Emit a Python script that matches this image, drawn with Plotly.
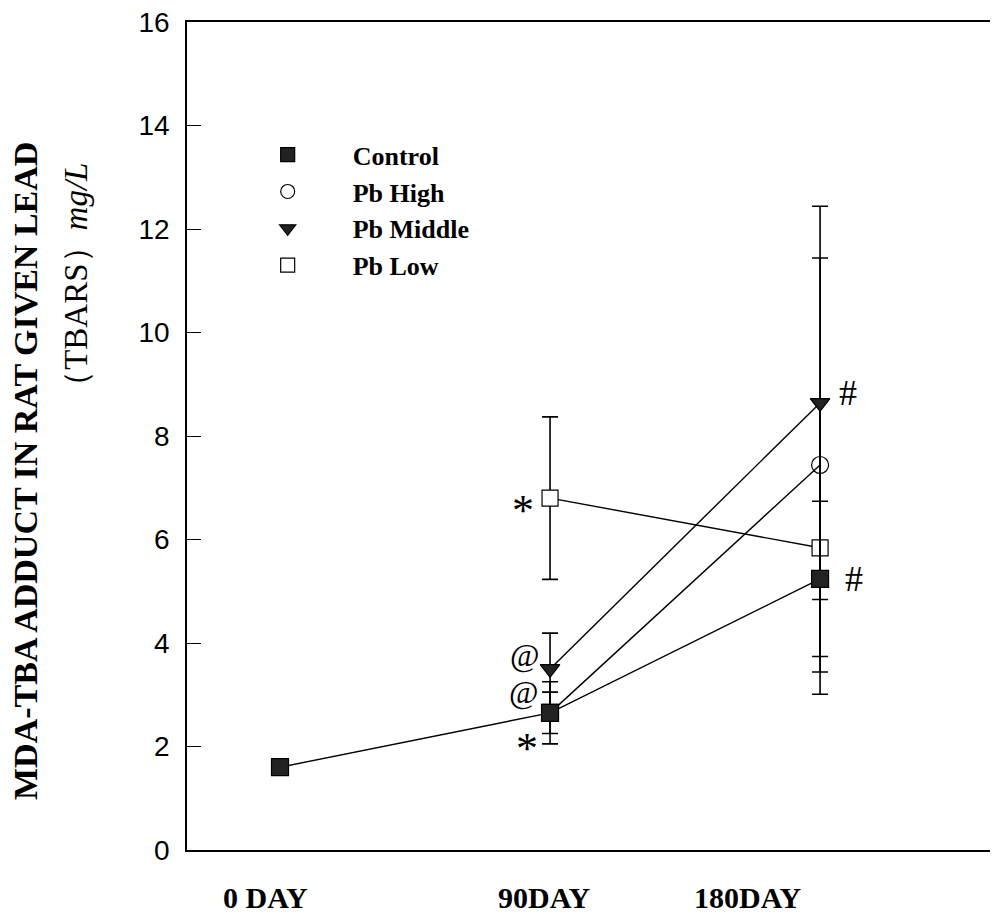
import plotly.graph_objects as go

# ---- data ----
days = [0, 90, 180]
day_labels = ["0 DAY", "90DAY", "180DAY"]
day_label_pos = [-5, 88, 156]          # label anchor positions on the day axis

control = [1.6, 2.65, 5.24]
control_err = [0, 0.4, 1.5]
pb_high = [None, 2.65, 7.44]
high_err = [0, 0.6, 4.0]
pb_middle = [None, 3.5, 8.64]
middle_err = [0, 0.69, 3.8]
pb_low = [None, 6.8, 5.84]
low_err = [0, 1.57, 2.83]

y_ticks = [0, 2, 4, 6, 8, 10, 12, 14, 16]

SERIF = "Liberation Serif, Times New Roman, serif"
SANS = "Liberation Sans, Arial, sans-serif"

fig = go.Figure()

def add_series(name, y, err, symbol, fill, size):
    fig.add_trace(go.Scatter(
        x=days, y=y, mode="lines+markers", name=name, showlegend=False,
        line=dict(color="black", width=1.4),
        marker=dict(symbol=symbol, size=size, color=fill,
                    line=dict(color="black", width=1.2)),
        error_y=dict(type="data", array=err, visible=True,
                     color="black", thickness=1.6, width=8),
    ))

# drawing order: Low, High, Middle, Control (later ones on top)
add_series("Pb Low", pb_low, low_err, "square", "white", 16)
add_series("Pb High", pb_high, high_err, "circle", "rgba(255,255,255,0)", 17)
add_series("Pb Middle", pb_middle, middle_err, "triangle-down", "#222222", 17)
add_series("Control", control, control_err, "square", "#222222", 17)

# legend-only entries (markers only) in reference order
legend_items = [
    ("Control", "square", "#222222"),
    ("Pb High", "circle", "white"),
    ("Pb Middle", "triangle-down", "#222222"),
    ("Pb Low", "square", "white"),
]
for name, sym, fill in legend_items:
    fig.add_trace(go.Scatter(
        x=[None], y=[None], mode="markers", name="<b>%s</b>" % name,
        marker=dict(symbol=sym, size=14, color=fill,
                    line=dict(color="black", width=1.2)),
    ))

annotations = []
# significance markers attached to data points: (text, x, y, dx, dy, size)
sig = [
    ("*", days[1], pb_low[1], -27, -12, 44),
    ("@", days[1], pb_middle[1], -26, 14, 32),
    ("@", days[1], control[1], -27, 21, 32),
    ("*", days[1], control[1], -23, -36, 44),
    ("#", days[2], pb_middle[2], 28, 10, 36),
    ("#", days[2], control[2], 34, 0, 36),
]
for t, xx, yy, dx, dy, fs in sig:
    annotations.append(dict(x=xx, y=yy, xref="x", yref="y", text=t,
                            showarrow=False, xshift=dx, yshift=dy,
                            font=dict(family=SERIF, size=fs, color="black")))

for lab, pos in zip(day_labels, day_label_pos):
    annotations.append(dict(x=pos, y=-0.057, xref="x", yref="paper", text="<b>%s</b>" % lab,
                            showarrow=False, xanchor="center", yanchor="middle",
                            font=dict(family=SERIF, size=30, color="black")))

annotations.append(dict(x=-0.1998, y=0.4577, xref="paper", yref="paper",
                        text="<b>MDA-TBA ADDUCT IN RAT GIVEN LEAD</b>", textangle=-90,
                        showarrow=False, xanchor="center", yanchor="middle",
                        font=dict(family=SERIF, size=34, color="black")))
annotations.append(dict(x=-0.1369, y=0.685, xref="paper", yref="paper",
                        text="（TBARS）<i>mg/L</i>", textangle=-90,
                        showarrow=False, xanchor="center", yanchor="middle",
                        font=dict(family=SERIF, size=33, color="black")))

fig.update_layout(
    width=990, height=911,
    margin=dict(l=179, r=0, t=14, b=69),
    paper_bgcolor="white", plot_bgcolor="white",
    showlegend=True,
    legend=dict(x=0.044, y=0.868, xanchor="left", yanchor="top",
                bgcolor="rgba(0,0,0,0)", itemwidth=120,
                font=dict(family=SERIF, size=26, color="black"),
                itemclick=False),
    annotations=annotations,
    xaxis=dict(range=[-31, 239.3], showgrid=False, zeroline=False,
               showline=True, linecolor="black", linewidth=1.5, mirror=True,
               ticks="", showticklabels=False),
    yaxis=dict(range=[0, 16], tickvals=y_ticks, showgrid=False, zeroline=False,
               showline=True, linecolor="black", linewidth=1.5,
               ticks="inside", ticklen=14, tickcolor="black", tickwidth=1.2,
               ticklabelstandoff=10, ticklabeloverflow="allow",
               tickfont=dict(family=SANS, size=28, color="black")),
)

fig.write_html("out.html")
